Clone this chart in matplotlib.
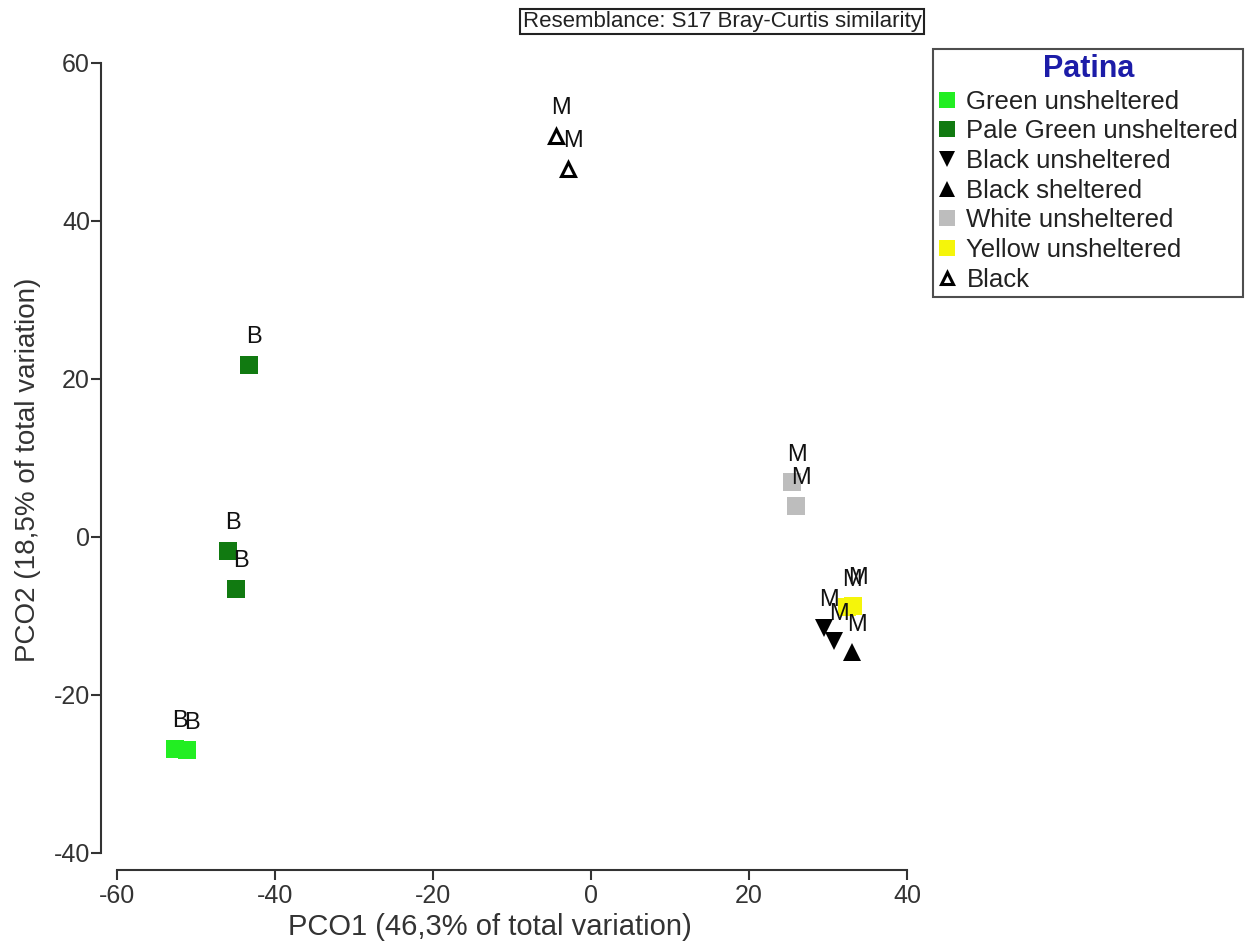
import matplotlib
matplotlib.use("Agg")
import matplotlib.pyplot as plt
from matplotlib.lines import Line2D

plt.rcParams['font.family'] = ['Liberation Sans', 'DejaVu Sans']
plt.rcParams['axes.unicode_minus'] = False

# PCO scores
green_x = [-52.6, -51.1]
green_y = [-26.8, -27.0]
pale_x = [-43.3, -45.9, -44.9]
pale_y = [21.8, -1.8, -6.6]
black_uns_x = [29.5, 30.8]
black_uns_y = [-11.5, -13.2]
black_sh_x = [33.1]
black_sh_y = [-14.6]
white_x = [25.5, 26.0]
white_y = [6.9, 3.9]
yellow_x = [32.4, 33.2]
yellow_y = [-8.9, -8.7]
black_x = [-4.4, -2.9]
black_y = [50.8, 46.6]

groups = [
    ("Green unsheltered", green_x, green_y, "B", dict(marker='s', color='#22ee22')),
    ("Pale Green unsheltered", pale_x, pale_y, "B", dict(marker='s', color='#117a11')),
    ("Black unsheltered", black_uns_x, black_uns_y, "M", dict(marker='v', color='black')),
    ("Black sheltered", black_sh_x, black_sh_y, "M", dict(marker='^', color='black')),
    ("White unsheltered", white_x, white_y, "M", dict(marker='s', color='#bdbdbd')),
    ("Yellow unsheltered", yellow_x, yellow_y, "M", dict(marker='s', color='#f5f50a')),
    ("Black", black_x, black_y, "M", dict(marker='^', color='white', mec='black', mew=2.2)),
]

fig = plt.figure(figsize=(12.59, 9.43), dpi=100)
W, H = 1259, 943
ax = fig.add_axes([117 / W, 1 - 853 / H, (907 - 117) / W, (853 - 63) / H])

handles = []
for name, xs, ys, lab, st in groups:
    st = dict(st)
    mk = st.pop('marker')
    c = st.pop('color')
    mec = st.pop('mec', c)
    mew = st.pop('mew', 0)
    ms = 10 if mk == '^' and c == 'white' else 13.5
    ax.plot(xs, ys, linestyle='none', marker=mk, ms=ms, mfc=c, mec=mec, mew=mew,
            zorder=2)
    handles.append(Line2D([], [], linestyle='none', marker=mk, ms=ms * 0.9,
                          mfc=c, mec=mec, mew=mew, label=name))

for name, xs, ys, lab, st in groups:
    for x, y in zip(xs, ys):
        ax.annotate(lab, (x, y), xytext=(3.5, 20), textcoords='offset points',
                    ha='center', va='center', fontsize=17, color='#111111', zorder=3)

ax.set_xlim(-60, 40)
ax.set_ylim(-40, 60)
ax.set_xticks([-60, -40, -20, 0, 20, 40])
ax.set_yticks([-40, -20, 0, 20, 40, 60])
ax.spines['top'].set_visible(False)
ax.spines['right'].set_visible(False)
ax.spines['left'].set_position(('outward', 11.5))
ax.spines['bottom'].set_position(('outward', 12.2))
for s in ('left', 'bottom'):
    ax.spines[s].set_linewidth(1.5)
    ax.spines[s].set_color('#333333')
ax.tick_params(direction='out', length=7, width=1.5, color='#333333',
               labelsize=18, labelcolor='#333333')
ax.tick_params(axis='y', pad=1)
ax.tick_params(axis='x', pad=3)

ax.set_xlabel("PCO1 (46,3% of total variation)", fontsize=21, color='#333333',
              va='center')
ax.xaxis.set_label_coords((490 - 117) / 790, -(927 - 853) / 790)
ax.set_ylabel("PCO2 (18,5% of total variation)", fontsize=20, color='#333333',
              va='center')
ax.yaxis.set_label_coords(-(117 - 28) / 790, (853 - 470) / 790)

fig.text(722 / W, 1 - 21.5 / H, "Resemblance: S17 Bray-Curtis similarity",
         ha='center', va='center', fontsize=16, color='#222222',
         bbox=dict(boxstyle='square,pad=0.1', fc='white', ec='#222222', lw=1.5))

leg = fig.legend(handles=handles, loc='upper left',
                 bbox_to_anchor=(933 / W, 1 - 49 / H), fontsize=18.5,
                 title="Patina", frameon=True, fancybox=False, edgecolor='#222222',
                 handlelength=0.7, handletextpad=0.4, labelspacing=0.22,
                 borderpad=0.2, borderaxespad=0)
leg.get_frame().set_linewidth(1.5)
leg.get_title().set_color('#1c1ca8')
leg.get_title().set_fontweight('bold')
leg.get_title().set_fontsize(22)
for t in leg.get_texts():
    t.set_color('#222222')

fig.savefig("out.png", dpi=100)
